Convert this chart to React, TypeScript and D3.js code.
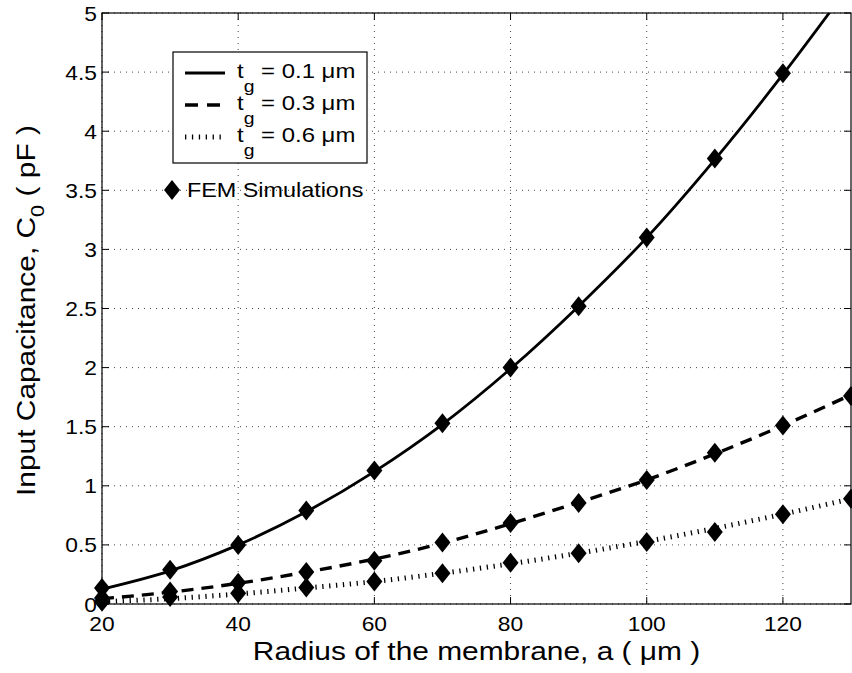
import React from "react";
import * as d3 from "d3";

const radius = [20, 30, 40, 50, 60, 70, 80, 90, 100, 110, 120, 130];
// model curves (lines)
const model01 = [0.125, 0.28, 0.5, 0.78, 1.12, 1.52, 1.99, 2.52, 3.1, 3.76, 4.48, 5.25];
const model03 = [0.045, 0.1, 0.175, 0.27, 0.38, 0.515, 0.68, 0.86, 1.05, 1.27, 1.51, 1.77];
const model06 = [0.02, 0.045, 0.085, 0.135, 0.19, 0.26, 0.34, 0.43, 0.53, 0.64, 0.76, 0.89];
// FEM simulation points (markers)
const fem01 = [0.135, 0.29, 0.5, 0.79, 1.13, 1.53, 2.0, 2.52, 3.1, 3.77, 4.49];
const fem03 = [0.05, 0.105, 0.18, 0.27, 0.365, 0.52, 0.685, 0.855, 1.05, 1.28, 1.51, 1.76];
const fem06 = [0.02, 0.06, 0.09, 0.14, 0.19, 0.26, 0.35, 0.43, 0.525, 0.61, 0.76, 0.89];

const xTicks = [20, 40, 60, 80, 100, 120];
const yTicks = [0, 0.5, 1, 1.5, 2, 2.5, 3, 3.5, 4, 4.5, 5];
const yTickLabels = ["0", "0.5", "1", "1.5", "2", "2.5", "3", "3.5", "4", "4.5", "5"];
const legendValues = ["0.1", "0.3", "0.6"];

const W = 852;
const H = 673;
const L = 102, R = 851, T = 13, B = 604;
const FONT = "'Liberation Sans', Arial, Helvetica, sans-serif";
const SX = 1.14;

function SText({ x, y, fs, anchor = "start", rot = 0, sx = SX, children }: any) {
  return (
    <g transform={`translate(${x},${y}) rotate(${rot}) scale(${sx},1)`}>
      <text x={0} y={0} fontSize={fs} textAnchor={anchor} fontFamily={FONT} fill="#000">
        {children}
      </text>
    </g>
  );
}

function diamond(cx: number, cy: number, hw = 8, hh = 10) {
  return `M${cx},${cy - hh}L${cx + hw},${cy}L${cx},${cy + hh}L${cx - hw},${cy}Z`;
}

const styles = [
  { dash: "none", width: 2.8 },
  { dash: "12 8", width: 3.4 },
  { dash: "1.3 5.6", width: 5 },
];

export default function App() {
  const x = d3.scaleLinear().domain([20, 130]).range([L, R]);
  const y = d3.scaleLinear().domain([0, 5]).range([B, T]);
  const line = d3
    .line<number>()
    .x((_, i) => x(radius[i]))
    .y((d) => y(d))
    .curve(d3.curveMonotoneX);

  const models = [model01, model03, model06];
  const fems = [fem01, fem03, fem06];

  return (
    <svg width={W} height={H} style={{ position: "absolute", left: 0, top: 0, background: "#fff" }}>
      <defs>
        <clipPath id="plot">
          <rect x={L} y={T} width={R - L} height={B - T} />
        </clipPath>
      </defs>
      <rect x={0} y={0} width={W} height={H} fill="#fff" />
      {/* grid */}
      <g stroke="#333" strokeWidth={0.9} strokeDasharray="1 5">
        {xTicks.map((t) => (
          <line key={"gx" + t} x1={x(t)} x2={x(t)} y1={T} y2={B} />
        ))}
        {yTicks.map((t) => (
          <line key={"gy" + t} x1={L} x2={R} y1={y(t)} y2={y(t)} />
        ))}
      </g>
      {/* ticks */}
      <g stroke="#000" strokeWidth={1}>
        {xTicks.map((t) => (
          <g key={"tx" + t}>
            <line x1={x(t)} x2={x(t)} y1={B} y2={B - 7} />
            <line x1={x(t)} x2={x(t)} y1={T} y2={T + 7} />
          </g>
        ))}
        {yTicks.map((t) => (
          <g key={"ty" + t}>
            <line x1={L} x2={L + 7} y1={y(t)} y2={y(t)} />
            <line x1={R} x2={R - 7} y1={y(t)} y2={y(t)} />
          </g>
        ))}
      </g>
      {/* lines */}
      <g clipPath="url(#plot)" fill="none" stroke="#000">
        {models.map((m, i) => (
          <path
            key={"m" + i}
            d={line(m) || ""}
            strokeWidth={styles[i].width}
            strokeDasharray={styles[i].dash}
          />
        ))}
      </g>
      {/* markers */}
      <g fill="#000">
        {fems.map((f, i) =>
          f.map((v, j) => <path key={`p${i}-${j}`} d={diamond(x(radius[j]), y(v))} />)
        )}
      </g>
      {/* axes box */}
      <rect x={L} y={T} width={R - L} height={B - T} fill="none" stroke="#000" strokeWidth={1.2} />
      {/* tick labels */}
      {xTicks.map((t) => (
        <SText key={"lx" + t} x={x(t)} y={631} fs={20} anchor="middle">
          {String(t)}
        </SText>
      ))}
      {yTicks.map((t, i) => (
        <SText key={"ly" + t} x={97} y={y(t) + 7.5} fs={20} anchor="end">
          {yTickLabels[i]}
        </SText>
      ))}
      {/* axis labels */}
      <SText x={(L + R) / 2} y={660} fs={26} anchor="middle" sx={1.15}>
        Radius of the membrane, a ( μm )
      </SText>
      <SText x={35} y={(T + B) / 2 + 2} fs={26} anchor="middle" rot={-90} sx={1.15}>
        Input Capacitance, C
        <tspan fontSize={19} dy={9}>0</tspan>
        <tspan dy={-9}> ( pF )</tspan>
      </SText>
      {/* legend */}
      <rect x={173} y={52} width={194} height={111} fill="#fff" stroke="#000" strokeWidth={1.2} />
      {legendValues.map((v, i) => {
        const ly = 73 + i * 32;
        return (
          <g key={"leg" + i}>
            <line
              x1={185}
              x2={225}
              y1={ly}
              y2={ly}
              stroke="#000"
              strokeWidth={styles[i].width}
              strokeDasharray={i === 1 ? "13 9" : styles[i].dash}
            />
            <SText x={237} y={ly + 5} fs={21}>
              t
              <tspan fontSize={17} dy={14}>g</tspan>
              <tspan dy={-14}>{` = ${v} μm`}</tspan>
            </SText>
          </g>
        );
      })}
      <path d={diamond(172, 190, 8, 10)} fill="#000" />
      <SText x={187} y={197} fs={20.5}>FEM Simulations</SText>
    </svg>
  );
}
